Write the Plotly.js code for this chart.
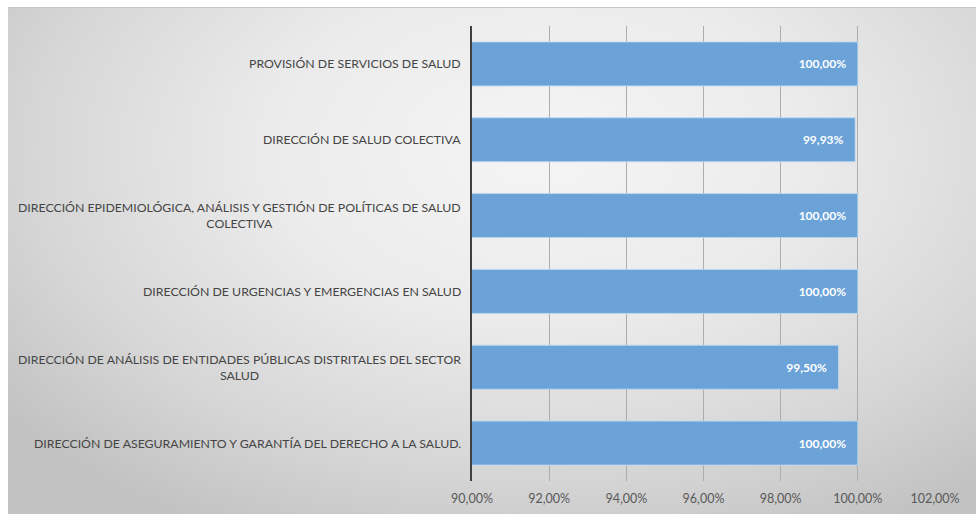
<!DOCTYPE html>
<html>
<head>
<meta charset="utf-8">
<script src="https://cdn.plot.ly/plotly-3.0.1.min.js"></script>
<style>
  html, body { margin: 0; padding: 0; background: #ffffff; }
  #wrap { position: relative; width: 976px; height: 514px; overflow: hidden; }
  #bg { position: absolute; left: 8px; top: 7px; width: 968px; height: 507px;
        border-top: 1px solid #c6c6c6;
        background: radial-gradient(ellipse 70% 85% at 55% 28%, #f5f5f5 0%, #ebebeb 40%, #d6d6d6 75%, #c2c2c2 100%); }
  #chart { position: absolute; left: 0; top: 0; width: 976px; height: 514px; }
</style>
</head>
<body>
<div id="wrap">
  <div id="bg"></div>
  <div id="chart"></div>
</div>
<script>
// Categories, top to bottom as shown
var categories = [
  "PROVISIÓN DE SERVICIOS DE SALUD",
  "DIRECCIÓN DE SALUD COLECTIVA",
  "DIRECCIÓN EPIDEMIOLÓGICA, ANÁLISIS Y GESTIÓN DE POLÍTICAS DE SALUD<br>COLECTIVA",
  "DIRECCIÓN DE URGENCIAS Y EMERGENCIAS EN SALUD",
  "DIRECCIÓN DE ANÁLISIS DE ENTIDADES PÚBLICAS DISTRITALES DEL SECTOR<br>SALUD",
  "DIRECCIÓN DE ASEGURAMIENTO Y GARANTÍA DEL DERECHO A LA SALUD."
];
var values = [1.0000, 0.9993, 1.0000, 1.0000, 0.9950, 1.0000];
var tickValues = [0.90, 0.92, 0.94, 0.96, 0.98, 1.00, 1.02];

var FONT = "Lato, 'Open Sans', sans-serif";

var trace = {
  type: 'bar',
  orientation: 'h',
  y: categories,
  x: values,
  base: 0,
  width: 0.58,
  marker: { color: '#6ba3d9', line: { color: 'rgba(190,215,240,0.9)', width: 1 } },
  texttemplate: '%{x:.2%}\u00a0\u00a0\u00a0',
  textposition: 'inside',
  insidetextanchor: 'end',
  textangle: 0,
  textfont: { family: FONT, size: 12, color: '#ffffff', weight: 'bold' },
  cliponaxis: true,
  hoverinfo: 'skip'
};

var annotations = categories.map(function (c) {
  return {
    xref: 'paper', yref: 'y', x: 0, y: c, xanchor: 'right', yanchor: 'middle',
    xshift: -9, text: c, showarrow: false, align: 'center',
    font: { family: FONT, size: 12.3, color: '#454545' }
  };
});

var layout = {
  width: 976, height: 514,
  margin: { l: 472, r: 41, t: 26, b: 33, pad: 0 },
  paper_bgcolor: 'rgba(0,0,0,0)',
  plot_bgcolor: 'rgba(0,0,0,0)',
  separators: ',.',
  showlegend: false,
  bargap: 0.42,
  xaxis: {
    range: [0.90, 1.02],
    tickvals: tickValues,
    tickformat: '.2%',
    showgrid: true, gridcolor: '#adadad', gridwidth: 1,
    zeroline: false, showline: false,
    ticks: '', ticklabelstandoff: 8,
    tickfont: { family: FONT, size: 12.5, color: '#595959' },
    fixedrange: true
  },
  yaxis: {
    type: 'category',
    categoryorder: 'array', categoryarray: categories.slice().reverse(),
    autorange: false, range: [-0.5, 5.5],
    showticklabels: false, showgrid: false, zeroline: false,
    showline: true, linecolor: '#404040', linewidth: 2,
    ticks: '', fixedrange: true
  },
  annotations: annotations
};

Plotly.newPlot('chart', [trace], layout, { displayModeBar: false, staticPlot: true });
</script>
</body>
</html>
